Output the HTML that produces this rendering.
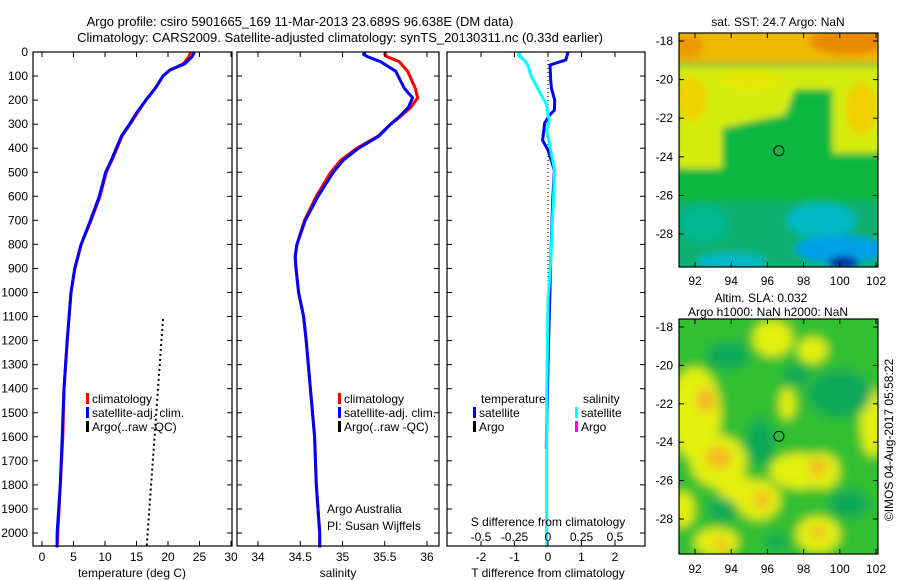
<!DOCTYPE html>
<html><head><meta charset="utf-8">
<style>
html,body{margin:0;padding:0;background:#fff;}
svg{display:block;font-family:"Liberation Sans",sans-serif;}
text{font-size:12px;fill:#000;}
</style></head>
<body>
<svg id="chart" width="900" height="580" viewBox="0 0 900 580" xmlns="http://www.w3.org/2000/svg">
<defs>
<filter id="blur1" x="-10%" y="-10%" width="120%" height="120%"><feGaussianBlur stdDeviation="3.5"/></filter>
<filter id="blur2" x="-10%" y="-10%" width="120%" height="120%"><feGaussianBlur stdDeviation="5"/></filter>
<clipPath id="clipMap1"><rect x="679" y="33" width="199" height="234"/></clipPath>
<clipPath id="clipMap2"><rect x="679" y="319" width="199" height="235"/></clipPath>
</defs>
<text x="300" y="26" text-anchor="middle" style="font-size:13px">Argo profile: csiro 5901665_169 11-Mar-2013 23.689S 96.638E (DM data)</text>
<text x="340" y="42" text-anchor="middle" style="font-size:13px">Climatology: CARS2009. Satellite-adjusted climatology: synTS_20130311.nc (0.33d earlier)</text>
<g id="p1"></g>
<g id="p2"></g>
<g id="p3"></g>
<g id="m1"></g>
<g id="m2"></g>
<text transform="translate(893,440) rotate(-90)" text-anchor="middle">©IMOS 04-Aug-2017 05:58:22</text>
</svg>
<script>
// ---- data ----
const depthTicks = [0,100,200,300,400,500,600,700,800,900,1000,1100,1200,1300,1400,1500,1600,1700,1800,1900,2000];
const tempTicks = [0,5,10,15,20,25,30];
const salTicks = [34,34.5,35,35.5,36];
const salTickLabels = ["34","34.5","35","35.5","36"];
const tdiffTicks = [-2,-1,0,1,2];
const sdiffTicks = [-0.5,-0.25,0,0.25,0.5];
const sdiffTickLabels = ["-0.5","-0.25","0","0.25","0.5"];
const lonTicks = [92,94,96,98,100,102];
const latTicks = [-18,-20,-22,-24,-26,-28];

const tDepth = [0,20,50,75,100,150,200,250,300,350,400,450,500,600,700,800,900,1000,1200,1400,1600,1800,2000,2060];
const tClim  = [23.6,23.3,22.4,20.3,19.2,18.0,16.5,15.2,14.0,12.7,11.9,11.1,10.2,9.2,7.8,6.2,5.2,4.6,4.0,3.5,3.3,2.9,2.5,2.4];
const tSat   = [24.2,23.8,22.6,20.3,19.2,18.0,16.5,15.1,13.9,12.6,11.8,11.0,10.1,9.1,7.7,6.2,5.2,4.6,4.0,3.5,3.2,2.9,2.4,2.4];
const argoDepth = [1110,2060];
const argoTemp = [19.2,16.6];

const sDepth = [0,10,20,40,80,150,190,230,270,300,350,400,450,500,600,700,800,850,900,1000,1100,1200,1400,1600,1800,2000,2060];
const sClim  = [35.51,35.50,35.53,35.67,35.77,35.86,35.89,35.81,35.68,35.57,35.42,35.17,34.98,34.86,34.69,34.55,34.46,34.44,34.45,34.48,34.54,34.57,34.62,34.67,34.69,34.73,34.73];
const sSat   = [35.27,35.25,35.30,35.45,35.63,35.73,35.83,35.78,35.67,35.57,35.43,35.19,35.01,34.89,34.71,34.56,34.46,34.44,34.45,34.48,34.54,34.57,34.62,34.67,34.69,34.73,34.73];

const dtDepth = [0,33,54,117,150,200,242,262,296,367,408,492,617,867,1033,1300,1650];
const dtSat   = [0.60,0.53,0.06,0.08,0.10,0.20,0.19,0.05,-0.10,-0.16,0.0,0.19,0.14,0.08,0.05,0.0,-0.05];
const dsDepth = [0,13,33,54,96,158,221,262,283,325,408,492,617,867,1033,1450,1992,2060];
const dsSat   = [-0.21,-0.22,-0.18,-0.15,-0.13,-0.07,-0.01,0.0,0.01,-0.01,0.02,0.05,0.04,0.02,0.0,-0.01,-0.01,-0.01];

// ---- scales ----
const yD = d => 52 + d*0.2405;
const xT = t => 42 + t*6.3;
const xS = s => 258 + (s-34)*84.5;
const xDT = v => 548 + v*33.5;
const xDS = v => 548 + v*134;
const m1x = lon => 695 + (lon-92)*18.1;
const m1y = lat => 41 + (-18-lat)*19.3;
const m2x = lon => 695 + (lon-92)*18.1;
const m2y = lat => 327 + (-18-lat)*19.2;

const NS="http://www.w3.org/2000/svg";
function mk(tag, attrs, parent){const e=document.createElementNS(NS,tag);for(const k in attrs)e.setAttribute(k,attrs[k]);parent.appendChild(e);return e;}
function txt(s, attrs, parent){const e=mk('text',attrs,parent);e.textContent=s;return e;}

function frame(g,x0,x1,y0,y1,name){
  const r=mk('rect',{x:x0,y:y0,width:x1-x0,height:y1-y0,fill:'none',stroke:'#000','stroke-width':1.2},g);
  
  
}
function yTicks(g,x0,x1,labels){
  depthTicks.forEach(d=>{
    const y=yD(d);
    mk('line',{x1:x0,y1:y,x2:x0+5,y2:y,stroke:'#000'},g);
    mk('line',{x1:x1,y1:y,x2:x1-5,y2:y,stroke:'#000'},g);
    if(labels){const t=txt(String(d),{x:28,y:y+4,'text-anchor':'end'},g);
      
      }
  });
}
function xTicks(g,vals,labs,sx,y0,y1,ly){
  vals.forEach((v,i)=>{
    const x=sx(v);
    mk('line',{x1:x,y1:y1,x2:x,y2:y1-5,stroke:'#000'},g);
    mk('line',{x1:x,y1:y0,x2:x,y2:y0+5,stroke:'#000'},g);
    if(ly!==null){const t=txt(labs[i],{x:x,y:ly,'text-anchor':'middle'},g);
      
      }
  });
}
function line(g,xs,ys,sx,color,w,name,dash){
  const pts=xs.map((v,i)=>sx(v).toFixed(1)+','+yD(ys[i]).toFixed(1)).join(' ');
  const p=mk('polyline',{points:pts,fill:'none',stroke:color,'stroke-width':w,'stroke-linejoin':'round'},g);
  if(dash)p.setAttribute('stroke-dasharray',dash);
  
  
}
function legend(g,x,y,color,label){
  mk('rect',{x:x,y:y-10,width:3,height:11,fill:color},g);
  const t=txt(label,{x:x+6,y:y},g);
  
  
}

// ---- panel 1 ----
const p1=document.getElementById('p1');
line(p1,tClim,tDepth,xT,'#f00',3,'temperature-climatology-line');
line(p1,tSat,tDepth,xT,'#00f',3,'temperature-satellite-line');
line(p1,argoTemp,argoDepth,xT,'#000',2,'argo-temperature-line','2,3');
frame(p1,33,232,52,546,'temperature-axes');
yTicks(p1,33,232,true);
xTicks(p1,tempTicks,tempTicks.map(String),xT,52,546,561);
txt('temperature (deg C)',{x:132,y:577,'text-anchor':'middle'},p1);
legend(p1,86,403,'#f00','climatology');
legend(p1,86,417,'#00f','satellite-adj. clim.');
legend(p1,86,431,'#000','Argo(..raw -QC)');

// ---- panel 2 ----
const p2=document.getElementById('p2');
line(p2,sClim,sDepth,xS,'#f00',3,'salinity-climatology-line');
line(p2,sSat,sDepth,xS,'#00f',3,'salinity-satellite-line');
frame(p2,237,439,52,546,'salinity-axes');
yTicks(p2,237,439,false);
xTicks(p2,salTicks,salTickLabels,xS,52,546,561);
txt('salinity',{x:338,y:577,'text-anchor':'middle'},p2);
legend(p2,338,403,'#f00','climatology');
legend(p2,338,417,'#00f','satellite-adj. clim.');
legend(p2,338,431,'#000','Argo(..raw -QC)');
txt('Argo Australia',{x:327,y:513},p2);
txt('PI: Susan Wijffels',{x:327,y:530},p2);

// ---- panel 3 ----
const p3=document.getElementById('p3');
mk('line',{x1:548,y1:52,x2:548,y2:330,stroke:'#000','stroke-dasharray':'1,3'},p3);
line(p3,dtSat,dtDepth,xDT,'#00f',3,'temperature-difference-line');
line(p3,dsSat,dsDepth,xDS,'#0ff',3,'salinity-difference-line');
frame(p3,447,645,52,546,'difference-axes');
yTicks(p3,447,645,false);
xTicks(p3,tdiffTicks,tdiffTicks.map(String),xDT,52,546,561);
sdiffTicks.forEach((v,i)=>{const t=txt(sdiffTickLabels[i],{x:xDS(v),y:541,'text-anchor':'middle'},p3);
  
  });
txt('S difference from climatology',{x:548,y:526,'text-anchor':'middle'},p3);
txt('T difference from climatology',{x:548,y:577,'text-anchor':'middle'},p3);
txt('temperature',{x:481,y:403},p3);
txt('salinity',{x:583,y:403},p3);
legend(p3,473,417,'#00f','satellite');
legend(p3,473,431,'#000','Argo');
legend(p3,575,417,'#0ff','satellite');
legend(p3,575,431,'#f0f','Argo');

// ---- map 1 (SST) ----
const m1=document.getElementById('m1');
const g1=mk('g',{'clip-path':'url(#clipMap1)'},m1);
const b1=mk('g',{filter:'url(#blur1)'},g1);
mk('rect',{x:670,y:25,width:220,height:250,fill:'#10b840'},b1);
mk('rect',{x:670,y:25,width:220,height:38,fill:'#f0b800'},b1);
mk('ellipse',{cx:m1x(100.5),cy:m1y(-18),rx:40,ry:14,fill:'#e88a00'},b1);
mk('ellipse',{cx:m1x(91.5),cy:m1y(-18.3),rx:18,ry:12,fill:'#ec9a00'},b1);
mk('polygon',{points:[[91,-19.3],[103,-19.3],[103,-23.8],[99.6,-23.8],[99.6,-20.5],[97.5,-20.5],[97,-21.8],[93.5,-22.5],[93.5,-24.6],[91,-24.6]].map(p=>m1x(p[0])+','+m1y(p[1])).join(' '),fill:'#d4ec10'},b1);
mk('ellipse',{cx:m1x(101.2),cy:m1y(-21.5),rx:16,ry:26,fill:'#f0d000'},b1);
mk('ellipse',{cx:m1x(91.8),cy:m1y(-21),rx:16,ry:22,fill:'#f0d400'},b1);
mk('ellipse',{cx:m1x(95),cy:m1y(-20),rx:30,ry:10,fill:'#e4e800'},b1);
mk('rect',{x:m1x(91),y:m1y(-26.3),width:220,height:120,fill:'#10b070'},b1);
mk('ellipse',{cx:m1x(92.5),cy:m1y(-27.5),rx:25,ry:20,fill:'#00b890'},b1);
mk('ellipse',{cx:m1x(99),cy:m1y(-27.3),rx:35,ry:18,fill:'#00b8c0'},b1);
mk('ellipse',{cx:m1x(100),cy:m1y(-28.8),rx:45,ry:14,fill:'#00a0e8'},b1);
mk('ellipse',{cx:m1x(94),cy:m1y(-29.4),rx:35,ry:8,fill:'#00b8c8'},b1);
mk('ellipse',{cx:m1x(100.2),cy:m1y(-29.5),rx:15,ry:7,fill:'#0030a0'},b1);
frame(m1,679,878,33,267,'sst-map-axes');
mk('circle',{cx:m1x(96.638),cy:m1y(-23.689),r:5,fill:'none',stroke:'#000'},m1);
latTicks.forEach(v=>{const y=m1y(v);mk('line',{x1:679,y1:y,x2:684,y2:y,stroke:'#000'},m1);mk('line',{x1:878,y1:y,x2:873,y2:y,stroke:'#000'},m1);
  const t=txt(String(v),{x:673,y:y+4,'text-anchor':'end'},m1);
  
  });
lonTicks.forEach(v=>{const x=m1x(v);mk('line',{x1:x,y1:267,x2:x,y2:262,stroke:'#000'},m1);mk('line',{x1:x,y1:33,x2:x,y2:38,stroke:'#000'},m1);
  const t=txt(String(v),{x:x,y:285,'text-anchor':'middle'},m1);
  
  });
txt('sat. SST: 24.7 Argo: NaN',{x:778,y:26,'text-anchor':'middle'},m1);

// ---- map 2 (SLA) ----
const m2=document.getElementById('m2');
const g2=mk('g',{'clip-path':'url(#clipMap2)'},m2);
const b2=mk('g',{filter:'url(#blur2)'},g2);
mk('rect',{x:670,y:310,width:220,height:260,fill:'#30c030'},b2);
const yel=[[92,-22.5,26,46],[93.3,-25,28,26],[95.5,-27,22,20],[97.8,-25.5,30,18],[99,-25.5,18,18],[96.3,-18.6,20,18],[98.5,-19.2,15,13],[101.8,-23,12,34],[93.2,-29.2,22,14],[98.8,-28.8,22,18],[91.3,-27.5,12,18],[94.3,-26.5,18,16],[97.1,-22,8,16]];
yel.forEach(e=>mk('ellipse',{cx:m2x(e[0]),cy:m2y(e[1]),rx:e[2],ry:e[3],fill:'#e4f008'},b2));
const org=[[92.6,-21.8,10,12],[93.3,-24.8,13,11],[95.7,-27,8,9],[98.8,-25.3,9,9],[93.4,-29.3,7,6],[98.8,-28.7,8,6]];
org.forEach(e=>mk('ellipse',{cx:m2x(e[0]),cy:m2y(e[1]),rx:e[2],ry:e[3],fill:'#f4b820'},b2));
const dgr=[[93.8,-19.5,22,14],[100,-21.5,32,24],[95.6,-24,14,24],[100.5,-27.2,20,14],[93.5,-27.5,14,12],[96.5,-29.2,12,8],[97.6,-20.5,14,10]];
dgr.forEach(e=>mk('ellipse',{cx:m2x(e[0]),cy:m2y(e[1]),rx:e[2],ry:e[3],fill:'#10a858'},b2));
frame(m2,679,878,319,554,'sla-map-axes');
mk('circle',{cx:m2x(96.638),cy:m2y(-23.689),r:5,fill:'none',stroke:'#000'},m2);
latTicks.forEach(v=>{const y=m2y(v);mk('line',{x1:679,y1:y,x2:684,y2:y,stroke:'#000'},m2);mk('line',{x1:878,y1:y,x2:873,y2:y,stroke:'#000'},m2);
  const t=txt(String(v),{x:673,y:y+4,'text-anchor':'end'},m2);
  
  });
lonTicks.forEach(v=>{const x=m2x(v);mk('line',{x1:x,y1:554,x2:x,y2:549,stroke:'#000'},m2);mk('line',{x1:x,y1:319,x2:x,y2:324,stroke:'#000'},m2);
  const t=txt(String(v),{x:x,y:573,'text-anchor':'middle'},m2);
  
  });
txt('Altim. SLA: 0.032',{x:761,y:302,'text-anchor':'middle'},m2);
txt('Argo h1000: NaN h2000: NaN',{x:768,y:316,'text-anchor':'middle'},m2);
</script>
</body></html>
